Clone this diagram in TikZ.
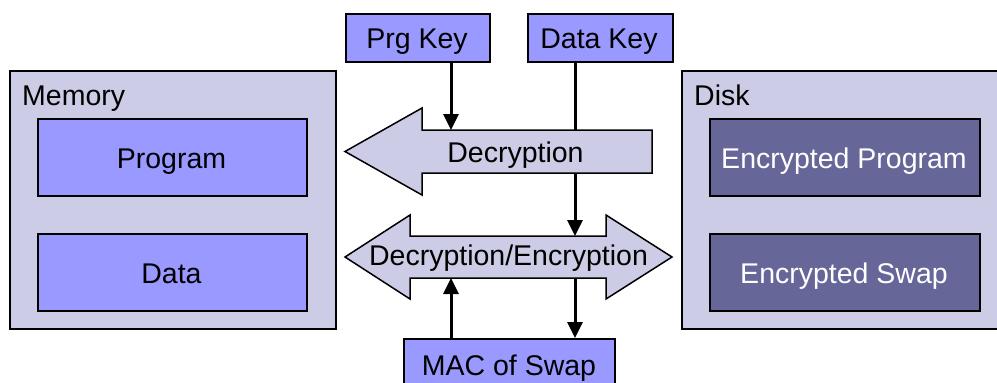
\documentclass[tikz,border=0pt]{standalone}
\usepackage{fontspec}
\setmainfont{Liberation Sans}
\usetikzlibrary{arrows.meta}
\definecolor{lav}{RGB}{204,204,230}
\definecolor{blu}{RGB}{153,153,255}
\definecolor{darkslot}{RGB}{102,102,153}

\begin{document}
\begin{tikzpicture}[x=1pt,y=-1pt,
  panel/.style={draw=black,line width=1.5pt,fill=lav,anchor=north west,inner sep=0pt},
  slot/.style={draw=black,line width=1.5pt,fill=blu,anchor=north west,inner sep=0pt},
  slotdark/.style={slot,fill=darkslot},
  txt/.style={anchor=base,inner sep=0pt,font=\fontsize{28.5}{34}\selectfont},
  bigarrow/.style={draw=black,line width=1.5pt,fill=lav,line join=miter},
  link/.style={line width=3pt,-{Triangle[length=16pt,width=15pt]}},
]
\useasboundingbox (0,0) rectangle (997,383);
\clip (0,0) rectangle (997,383);

% columns of the key / MAC connectors
\coordinate (colA) at (451,0);
\coordinate (colB) at (575,0);

% storage panels
\node[panel,minimum width=326pt,minimum height=258pt] (mem) at (9,70) {};
\node[panel,minimum width=340pt,minimum height=258pt] (disk) at (681,70) {};

% memory contents
\node[slot,minimum width=269pt,minimum height=77pt] (prog) at (37,118) {};
\node[slot,minimum width=269pt,minimum height=77pt] (data) at (37,233) {};

% disk contents
\node[slotdark,minimum width=270pt,minimum height=77pt] (encprog) at (709,118) {};
\node[slotdark,minimum width=270pt,minimum height=77pt] (encswap) at (709,233) {};

% keys and MAC
\node[slot,minimum width=144pt,minimum height=48pt] (prgkey) at (345,13) {};
\node[slot,minimum width=145pt,minimum height=48pt] (datakey) at (527,13) {};
\node[slot,minimum width=211pt,minimum height=70pt] (mac) at (403,338) {};

% double-headed decryption/encryption arrow
\draw[bigarrow] (345,257) -- (410,215) -- (410,236) -- (606,236) -- (606,215)
  -- (672,257) -- (606,299) -- (606,278) -- (410,278) -- (410,299) -- cycle;
\coordinate (de-n) at (508,236);
\coordinate (de-s) at (508,278);

% data key feeds the decryption/encryption stage
\draw[link] (datakey.south -| colB) -- (de-n -| colB);

% single decryption arrow (drawn over the data key line)
\draw[bigarrow] (345,151.5) -- (422,108) -- (422,130) -- (652,130) -- (652,173)
  -- (422,173) -- (422,195) -- cycle;
\coordinate (dec-n) at (515,130);

% program key feeds the decryption stage
\draw[link] (prgkey.south -| colA) -- (dec-n -| colA);

% MAC of swap exchange
\draw[link] (mac.north -| colA) -- (de-s -| colA);
\draw[link] (de-s -| colB) -- (mac.north -| colB);

% labels
\node[txt,anchor=base west] (t-mem) at (22,105) {Memory};
\node[txt,anchor=base west] (t-disk) at (694,105) {Disk};
\node[txt] (t-prog) at (171.5,168) {Program};
\node[txt] (t-data) at (171.5,283) {Data};
\node[txt,text=white] (t-encprog) at (844,168) {Encrypted Program};
\node[txt,text=white] (t-encswap) at (844,283) {Encrypted Swap};
\node[txt] (t-prgkey) at (417,48) {Prg Key};
\node[txt] (t-datakey) at (599,48) {Data Key};
\node[txt] (t-dec) at (515.5,162) {Decryption};
\node[txt] (t-decenc) at (508.5,265) {Decryption/Encryption};
\node[txt] (t-mac) at (509,375) {MAC of Swap};
\end{tikzpicture}
\end{document}
